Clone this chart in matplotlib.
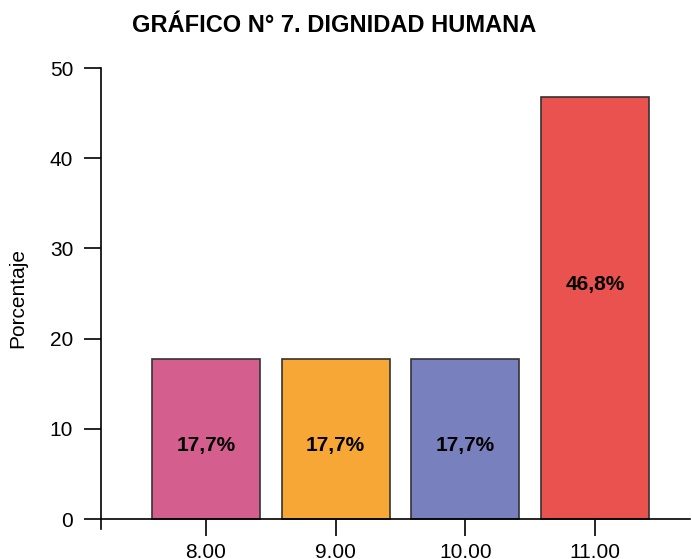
import numpy as np
import matplotlib
matplotlib.use('Agg')
import matplotlib.pyplot as plt

# Datos del grafico
categorias = ['8.00', '9.00', '10.00', '11.00']
porcentajes = [17.7, 17.7, 17.7, 46.8]
etiquetas = ['17,7%', '17,7%', '17,7%', '46,8%']
pos_etiqueta = [8.2, 8.2, 8.2, 26.0]
colores = ['#D45F8E', '#F6A735', '#7880BD', '#E9524E']
yticks = [0, 10, 20, 30, 40, 50]

plt.rcParams['font.family'] = ['Liberation Sans', 'DejaVu Sans']

fig = plt.figure(figsize=(6.92, 5.59), dpi=100)
ax = fig.add_axes([101/692, 1-529/559, 589/692, 461/559])

x = np.arange(len(categorias))
ax.bar(x, porcentajes, width=0.832, color=colores, edgecolor='#333333', linewidth=1.2, zorder=2)

for xi, yi, txt in zip(x, pos_etiqueta, etiquetas):
    ax.text(xi, yi, txt, ha='center', va='center', fontsize=15, fontweight='bold', color='black')

ax.spines['top'].set_visible(False)
ax.spines['right'].set_visible(False)
ax.spines['bottom'].set_position(('data', 0))
ax.spines['left'].set_linewidth(1.2)
ax.spines['bottom'].set_linewidth(1.2)

ax.set_xlim(-0.807, 3.73)
ax.set_ylim(-1.1, 50)
ax.set_xticks(x)
ax.set_xticklabels(categorias)
ax.set_yticks(yticks)
ax.set_yticklabels([str(v) for v in yticks])
ax.tick_params(axis='both', direction='out', length=12, width=1.2, color='black', labelsize=15)
ax.tick_params(axis='x', pad=5)
ax.tick_params(axis='y', pad=8)

ax.set_ylabel('Porcentaje', fontsize=15)
ax.yaxis.set_label_coords(-0.1256, 0.5)
fig.text(334/692, 1-25/559, 'GRÁFICO N° 7. DIGNIDAD HUMANA', ha='center', va='center',
         fontsize=17, fontweight='bold')

plt.savefig('out.png', dpi=100)
